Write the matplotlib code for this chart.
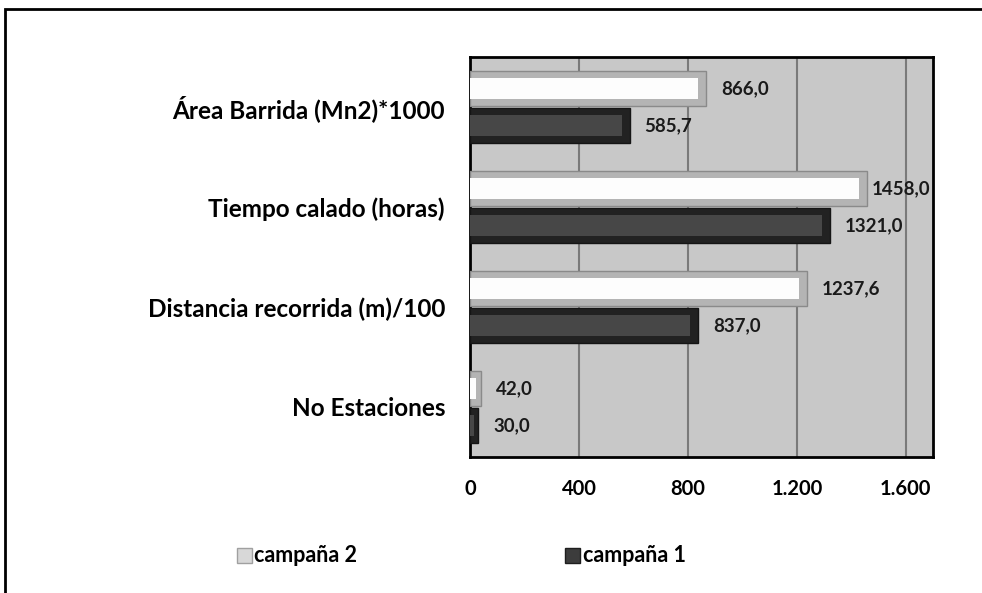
import matplotlib.pyplot as plt
import numpy as np
from matplotlib.patches import Rectangle

# data
categorias = ['No Estaciones', 'Distancia recorrida (m)/100',
              'Tiempo calado (horas)', 'Área Barrida (Mn2)*1000']
campana2 = [42.0, 1237.6, 1458.0, 866.0]
campana1 = [30.0, 837.0, 1321.0, 585.7]
xticks = [0, 400, 800, 1200, 1600]
xtick_labels = ['0', '400', '800', '1.200', '1.600']


def fmt(v):
    return ('%.1f' % v).replace('.', ',')


def bevel_bars(ax, y, vals, h, outer, inner, edge):
    # outer bar = bevel sides, inner bar = flat face
    ax.barh(y, vals, height=h, color=outer, edgecolor=edge, linewidth=1, zorder=3)
    face = [max(v - 28, v * 0.5) for v in vals]
    ax.barh(y, face, height=h * 0.62, color=inner, linewidth=0, zorder=4)


def main():
    plt.rcParams['font.family'] = ['Lato', 'DejaVu Sans']
    plt.rcParams['font.weight'] = 'bold'

    fig = plt.figure(figsize=(9.82, 5.93), dpi=100)
    W, H = 982, 593
    ax = fig.add_axes([470 / W, 1 - 457 / H, (933 - 470) / W, (457 - 57) / H])
    ax.set_facecolor('#c8c8c8')
    xmax = 1700

    y = np.arange(len(categorias))
    h = 0.35
    bevel_bars(ax, y + 0.185, campana2, h, '#b4b4b4', '#fdfdfd', '#8a8a8a')
    bevel_bars(ax, y - 0.185, campana1, h, '#222222', '#474747', '#151515')

    ax.set_xlim(0, xmax)
    ax.set_ylim(-0.5, len(categorias) - 0.5)

    labels = []
    for i in range(len(categorias)):
        labels.append(ax.text(campana2[i] + 55, y[i] + 0.185, fmt(campana2[i]),
                              va='center', ha='left', fontsize=13.5,
                              fontweight='bold', color='#1a1a1a', zorder=5))
        labels.append(ax.text(campana1[i] + 55, y[i] - 0.185, fmt(campana1[i]),
                              va='center', ha='left', fontsize=13.5,
                              fontweight='bold', color='#1a1a1a', zorder=5))

    ax.set_xticks(xticks)
    ax.set_xticklabels(xtick_labels, fontsize=14.5, fontweight='bold')
    ax.set_yticks(y)
    ax.set_yticklabels(categorias, fontsize=17.5, fontweight='bold')
    ax.tick_params(axis='x', length=0, pad=16)
    ax.tick_params(axis='y', length=0, pad=18)
    ax.grid(axis='x', color='#7a7a7a', linewidth=1.5, zorder=1)
    ax.set_axisbelow(True)
    for s in ax.spines.values():
        s.set_linewidth(2)
        s.set_color('black')

    # keep data labels inside the plot area, like the original
    fig.canvas.draw()
    r = fig.canvas.get_renderer()
    right = ax.get_window_extent(r).x1 - 3
    for t in labels:
        bb = t.get_window_extent(r)
        if bb.x1 > right:
            t.set_x(ax.transData.inverted().transform((right, 0))[0])
            t.set_ha('right')

    # outer chart border (top and left visible)
    fig.patches.append(Rectangle((5 / W, -0.1), 1.2, 1 - 9 / H + 0.1,
                                 transform=fig.transFigure, fill=False,
                                 edgecolor='black', linewidth=2))

    # legend at the bottom
    fig.patches.append(Rectangle((237 / W, 1 - 563 / H), 15 / W, 15 / H,
                                 transform=fig.transFigure, facecolor='#d8d8d8',
                                 edgecolor='#a0a0a0', linewidth=1))
    fig.text(254 / W, 1 - 556 / H, 'campaña 2', fontsize=15.5,
             fontweight='bold', va='center', ha='left')
    fig.patches.append(Rectangle((565 / W, 1 - 563 / H), 15 / W, 15 / H,
                                 transform=fig.transFigure, facecolor='#3c3c3c',
                                 edgecolor='#1e1e1e', linewidth=1))
    fig.text(583 / W, 1 - 556 / H, 'campaña 1', fontsize=15.5,
             fontweight='bold', va='center', ha='left')

    fig.savefig('out.png', dpi=100)


if __name__ == "__main__":
    main()
